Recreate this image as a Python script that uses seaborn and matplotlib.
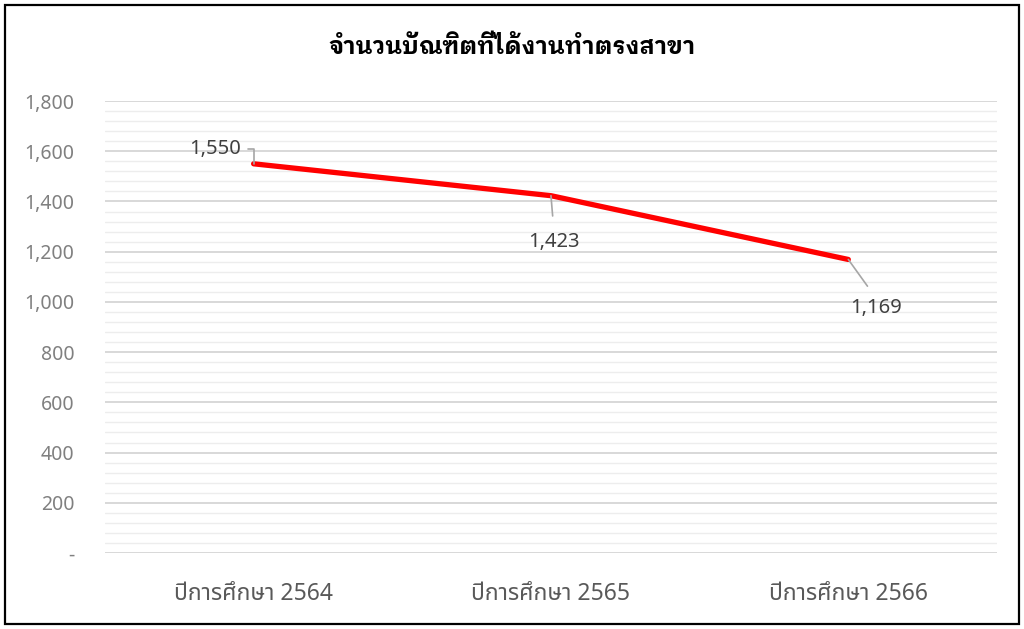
import matplotlib
matplotlib.use("Agg")
import matplotlib.pyplot as plt
from matplotlib.patches import Rectangle
from matplotlib.ticker import FixedLocator, MultipleLocator, FuncFormatter
import pandas as pd
import seaborn as sns

years = ["ปีการศึกษา 2564", "ปีการศึกษา 2565", "ปีการศึกษา 2566"]
graduates = [1550, 1423, 1169]
title = "จำนวนบัณฑิตที่ได้งานทำตรงสาขา"
y_ticks = [0, 200, 400, 600, 800, 1000, 1200, 1400, 1600, 1800]

df = pd.DataFrame({"year": years, "graduates": graduates})

sns.set_theme(style="white")
plt.rcParams["font.family"] = ["Noto Sans", "Noto Sans Thai", "Sarabun", "DejaVu Sans"]

fig = plt.figure(figsize=(10.24, 6.29), dpi=100)
ax = fig.add_axes([0.1025, 0.1208, 0.8711, 0.7186])

sns.lineplot(data=df, x="year", y="graduates", ax=ax, color="#ff0000",
             linewidth=3.8, solid_capstyle="round", zorder=3)

ax.set_xlim(-0.5, 2.5)
ax.set_ylim(0, 1800)
ax.yaxis.set_major_locator(FixedLocator(y_ticks))
ax.yaxis.set_minor_locator(MultipleLocator(40))
ax.yaxis.set_major_formatter(FuncFormatter(lambda v, p: "-" if v == 0 else f"{int(v):,}"))
ax.grid(axis="y", which="major", color="#d6d6d6", linewidth=1.3, zorder=0)
ax.grid(axis="y", which="minor", color="#ededed", linewidth=1.0, zorder=0)
ax.grid(axis="x", visible=False)
for s in ax.spines.values():
    s.set_visible(False)
ax.tick_params(axis="y", which="both", length=0, pad=22, labelsize=14, labelcolor="#808080")
ax.tick_params(axis="x", length=0, pad=21, labelsize=16.5, labelcolor="#595959")
ax.set_xlabel("")
ax.set_ylabel("")

fig.text(0.5, 0.925, title, ha="center", va="center", fontsize=17, fontweight="bold",
         color="#000000",
         family=["IBM Plex Sans Thai Looped", "Noto Sans Thai Looped",
                 "Noto Sans Thai", "DejaVu Sans"])

# data labels with leader lines
label_style = dict(fontsize=14.5, color="#404040", textcoords="offset pixels",
                   ha="center", va="center", zorder=4)
lead = dict(arrowstyle="-", color="#a6a6a6", linewidth=1.2, shrinkB=0)
ax.annotate(f"{graduates[0]:,}", xy=(0, graduates[0]), xytext=(-39, 15),
            arrowprops=dict(lead, connectionstyle="angle,angleA=0,angleB=90,rad=0",
                            relpos=(1, 0.5), shrinkA=3), **label_style)
ax.annotate(f"{graduates[1]:,}", xy=(1, graduates[1]), xytext=(3, -46),
            arrowprops=dict(lead, relpos=(0.5, 1), shrinkA=9), **label_style)
ax.annotate(f"{graduates[2]:,}", xy=(2, graduates[2]), xytext=(28, -49),
            arrowprops=dict(lead, relpos=(0.5, 1), shrinkA=8), **label_style)

fig.patches.append(Rectangle((5 / 1024, 5 / 629), 1014 / 1024, 619 / 629,
                             transform=fig.transFigure, fill=False,
                             edgecolor="#000000", linewidth=1.6))

fig.savefig("out.png", dpi=100)
plt.close(fig)
